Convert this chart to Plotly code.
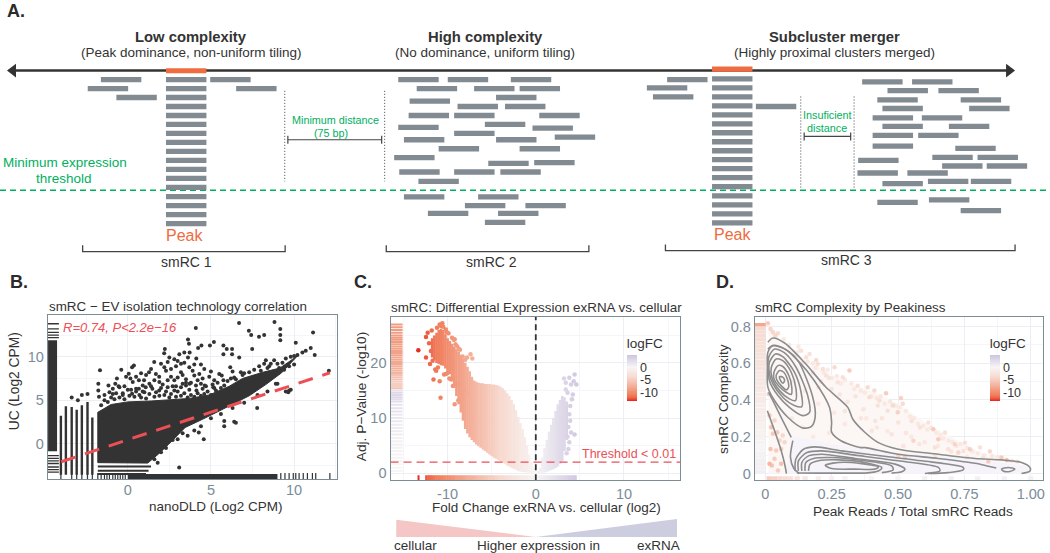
import plotly.graph_objects as go

FONT = "Liberation Sans"
DARK = "#333333"
SLATE = "#7B8C99"
GREEN = "#00B060"
ORANGE = "#EE6C3F"
READ = "#828A92"
RED = "#EC4F55"
GRID = "#EDEEF4"
GRID2 = "#F5F6FA"
BORDER = "#7C8E93"

# panel A, read pile-ups on the page (start, row)
read_len = 40.5
c1_x = [101.1, 210.6, 87.9, 236.6, 116.6]
c1_y = [79.7, 79.7, 88.7, 88.7, 97.7]
stack1_y = [79.7, 88.7, 97.7, 106.7, 115.7, 124.7, 133.7, 142.7, 151.7, 160.7, 169.7, 178.7, 187.7, 197, 206, 215, 224]
c2_x = [399, 448.6, 511.8, 417.5, 475, 520.6, 497, 410.4, 458.4, 506, 409.4, 455, 540.3, 399, 485.8, 455, 533.5,
        404.7, 497, 555.8, 439.5, 520.6, 394.9, 489.2, 535.2, 400, 455, 501.3, 419.2,
        404.7, 479, 465.8, 526.4, 428.7, 499, 485.8]
c2_y = [79.7, 79.7, 79.7, 88.7, 88.7, 88.7, 97.7, 101.3, 106.7, 106.7, 115.7, 115.7, 115.7, 127.7, 124.7, 133.7, 128.3,
        140, 140, 137.3, 149, 149, 158, 163.7, 163, 172.3, 172.3, 172.3, 181.7,
        197.3, 197.3, 206, 206, 213.7, 213.7, 222.7]
stack3_y = [79, 88, 97, 106, 115, 124, 133, 142, 151, 160, 169, 178, 187, 196.3, 205.3, 214.3, 223.3]
c3_x = [668.4, 648.1, 654.2, 757.3,
        863.8, 913.8, 889.2, 940.2, 879, 962.5, 884.1, 971, 874.3, 923.6, 884.1, 950.7, 874.3, 919.9, 874.3, 957.1,
        934.1, 979.4, 859.8, 943.9, 988.6, 859.1, 909.1, 884.1, 929.7, 972.7, 879, 930.7, 962.5]
c3_y = [79.7, 88, 97, 106.7,
        82, 82, 90.7, 90.7, 100, 100, 108.7, 108.7, 118, 118, 126.7, 126.7, 135.7, 135.7, 146.3, 148.7,
        157.7, 157.7, 160.7, 166.3, 166.3, 173.3, 173.3, 184, 181.7, 181.7, 202.7, 200.3, 211]

# panel B
reg_x = [-4.0, 12.15]
reg_y = [-2.1, 8.15]
cloud_b_x = [-1.8, -1.8, -1.0, 0, 1.4, 2.4, 3.7, 4.9, 6.1, 6.9, 8.1, 9.15, 10.2, 9.25, 8.3, 7.3, 6.5, 5.5, 4.5, 3.45, 2.45, 1.85, 1.2, -1.8]
cloud_b_y = [-2.2, 3.6, 4.5, 4.8, 4.9, 5.0, 5.2, 5.6, 6.6, 7.5, 8.2, 8.7, 10.1, 8.15, 6.8, 5.5, 4.7, 3.75, 2.8, 1.85, -0.1, -1.2, -2.25, -2.2]
col_x = [-4.02, -3.72, -3.37, -3.07, -2.76, -2.42, -2.13]
col_lo = [-3.6, -3.6, -3.6, -3.6, -3.6, -3.6, -3.6]
col_hi = [3.2, 4.3, 4.2, 3.9, 4.4, 4.8, 3.0]
row_b_y = [-2.64, -3.14, -3.5]
row_b_end = [1.4, 1.25, 1.1]
out_b_x = [4.09, 6.69, 8.82, 7.28, 7.42, 7.89, 8.2, 9.17, 9.17, 9.17, 11.14, 7.48, 10.1, 11.0, 11.24, 10.7, 12.09,
           3.62, 3.68, 5.18, 4.94, 4.43, 4.23, 5.75, 5.95, 6.27, 5.75, 6.27, 6.7, 2.23, 2.19, 2.5, 3.1, 3.4, 3.72, 3.62,
           2.8, 3.0, 4.12, 3.2, 2.4,
           -1.67, -1.77, -1.77, -1.73, -0.39, -0.65, -0.75, -0.55, -1.16, -1.1, 0.37, 0.26, 0.06, -0.1, 0.16, 0.5, 0.67,
           0.98, 1.28, 1.59, 1.69, 1.89, 2.2, 2.3, 2.6, 2.8, 3.2, 3.3, 3.9, 4.0, 4.3, 4.2, 4.9, 5.65, 5.75, 6.16,
           1.08, 1.48, 0.67, 0.26, 1.89, 2.4, 2.8, 3.2, 3.72, 4.13, 4.63, 5.14, -0.9, -0.3, 0.9, 2.1, 3.5, 4.4,
           7.78, 9.7, 9.5, 9.0, 5.8, 5.8, 6.4, 6.5, 4.57, 4.27, 3.09, 9.65, 9.8,
           9.5, 9.8, 10.0, 10.2, 10.5, 9.3, 9.0, 8.8, 8.6, 8.5, 9.1, 9.7, 10.0, 9.4, 8.4, 8.0,
           6.9, 6.4, 5.2, 4.7, 3.5, 2.9, 1.3, 0.5, 0.0, -0.5, -3.37, -2.76, -3.0, -2.42]
out_b_y = [13.3, 13.9, 14.0, 13.0, 12.5, 12.3, 12.5, 13.2, 12.5, 11.9, 12.8, 10.9, 11.6, 11.0, 10.2, 10.7, 8.4,
           12.0, 11.5, 11.7, 11.3, 11.3, 11.0, 11.3, 10.9, 10.9, 10.3, 10.3, 9.9, 10.9, 10.4, 9.9, 10.3, 10.5, 10.5, 9.9,
           9.7, 9.5, 9.8, 9.2, 9.4,
           8.43, 6.9, 6.1, 5.4, 8.5, 7.5, 6.9, 6.6, 6.7, 5.9, 9.0, 8.8, 8.05, 7.7, 7.5, 7.7, 7.3,
           7.3, 8.2, 9.4, 8.0, 7.7, 8.8, 8.4, 7.7, 7.3, 8.2, 7.9, 8.4, 7.85, 8.0, 7.3, 7.7, 7.85, 7.3, 8.8,
           6.5, 6.3, 6.3, 5.75, 6.1, 6.5, 6.1, 6.5, 6.9, 6.1, 6.7, 6.5, 5.7, 5.8, 6.0, 6.8, 7.0, 6.9,
           4.1, 6.1, 6.0, 6.9, 2.6, 2.0, 2.5, 2.4, 0.5, 1.26, -2.76, 5.9, 6.2,
           9.8, 10.0, 10.1, 10.2, 10.5, 9.3, 9.2, 9.6, 9.2, 8.9, 8.7, 8.9, 9.1, 8.5, 8.7, 8.4,
           7.9, 7.6, 6.4, 6.6, 6.7, 6.6, 6.9, 6.3, 6.2, 6.5, 5.3, 5.6, 5.0, 5.7]
edge_b_x = [-1.6, -1.4, -1.2, -1.0, -0.8, -0.7, -0.5, -0.3, -0.2, 0.1, 0.2, 0.4, 0.5, 0.7, 0.8, 1.0, 1.1, 1.3, 1.4, 1.6, 1.7, 1.9,
            2.0, 2.2, 2.3, 2.5, 2.6, 2.7, 2.9, 3.0, 3.2, 3.3, 3.4, 3.6, 3.7, 3.8, 4.0, 4.1, 4.2, 4.4, 4.5, 4.6, 4.8, 5.0, 5.1,
            5.3, 5.4, 5.6, 5.8, 6.0, 6.2, 6.5, 7.0, 7.3, 7.6, 7.9, 8.2, 8.3, 6.8, 6.3, 5.5, 5.0, 4.6, 4.4, 4.0, 3.7, 3.4, 2.9,
            2.6, 2.0, 1.4, 1.1, 0.8, 0.3, -0.2, -0.9, -1.4, 1.9, 2.4, 3.0, 3.5, 3.8, 4.5, 5.2, 0.9, 1.6,
            4.0, 3.3, 2.7, 2.3, 2.0, 5.0, 5.6, 6.3, 7.0, 7.8, 8.4, 8.9, 3.0, 3.6, 4.4, 1.6, 1.8]
edge_b_y = [4.4, 5.0, 4.8, 5.3, 5.1, 5.8, 5.3, 5.6, 5.1, 5.5, 6.2, 5.4, 6.0, 5.6, 5.3, 5.9, 5.2, 5.7, 6.6, 5.4, 5.9, 5.5,
            6.4, 5.6, 6.0, 5.3, 5.7, 6.6, 5.4, 6.0, 5.5, 6.9, 5.8, 5.3, 6.2, 5.6, 5.4, 6.7, 5.8, 5.5, 6.3, 5.7, 6.0, 5.6, 6.8,
            6.1, 7.0, 6.4, 6.7, 7.2, 7.5, 7.4, 8.1, 8.2, 8.5, 8.9, 9.2, 9.6, 8.2, 8.3, 8.0, 8.3, 8.6, 9.1, 9.1, 8.8, 9.3, 8.9,
            8.6, 9.2, 8.6, 7.9, 8.1, 7.1, 6.6, 6.3, 5.6, 7.1, 7.3, 7.6, 7.4, 7.0, 7.5, 7.3, 6.7, 7.3,
            1.5, 1.2, 0.4, -0.5, -1.0, 2.9, 3.4, 4.1, 4.7, 5.6, 6.0, 6.9, 0.5, 0.9, 2.0, -1.8, -2.2]
rug_b_solid = [-0.9, 11.9]
rug_b_y = [12.2, 12.5, 12.8, 13.2, 13.8, -1.4, -1.7, -2.0, -2.3, -2.7, -3.0, -3.3]
rug_b_x_solid = [0.0, 9.0]
rug_b_x = [-4.02, -3.37, -3.07, -2.76, -2.42, -2.13, -1.8, -1.6, -1.4, -1.25, -1.1, -0.9, -0.75, -0.6, -0.45, -0.3, -0.15,
           9.2, 9.45, 9.7, 9.95, 10.1, 10.3, 10.55, 10.8, 11.1, 11.3, 12.15]

# panel C, volcano cloud by fold change bin
fc_bins = [-11.75, -11.5, -11.25, -11, -10.75, -10.5, -10.25, -10, -9.75, -9.5, -9.25, -9, -8.75, -8.5, -8.25, -8, -7.75, -7.5,
           -7.25, -7, -6.75, -6.5, -6.25, -6, -5.75, -5.5, -5.25, -5, -4.75, -4.5, -4.25, -4, -3.75, -3.5, -3.25, -3, -2.75,
           -2.5, -2.25, -2, -1.75, -1.5, -1.25, -1, -0.75, -0.5, -0.25, 0, 0.25, 0.5, 0.75, 1, 1.25, 1.5, 1.75, 2, 2.25, 2.5,
           2.75, 3, 3.25, 3.5]
p_low = [21, 20.5, 20, 19.8, 19.6, 19.5, 19, 18.5, 18, 17, 15.5, 14, 12.5, 11, 9.5, 8, 7.2, 6.5,
         6, 5.6, 5.2, 4.9, 4.6, 4.3, 4, 3.7, 3.4, 3.1, 2.8, 2.6, 2.4, 2.2, 1.9, 1.7, 1.4, 1.2, 1,
         0.8, 0.6, 0.4, 0.3, 0.2, 0.15, 0.1, 0.05, 0, 0, 0, 0, 0, 0.05, 0.1, 0.25, 0.4, 0.55, 0.7, 0.95, 1.2,
         1.7, 2.2, 4, 6]
p_high = [24.5, 25, 25.5, 26, 26.2, 26, 25.2, 24.5, 24, 23.5, 23, 22.5, 22, 21.5, 20.8, 20, 19.3, 18.5,
          17.5, 16.8, 16.6, 16.4, 16.3, 16.3, 16.2, 16.2, 16.2, 16.1, 16.1, 16, 15.9, 15.7, 15.4, 15, 14.5, 14, 13.3,
          12.5, 11.4, 10.2, 9.1, 8, 6.5, 5, 3.4, 2, 1, 0.3, 0.4, 1, 2.8, 4.5, 6, 7.5, 8.8, 10, 11.3, 12.5,
          13.3, 14, 13.8, 13]
out_c_fc = [-13.32, -12.45, -11.8, -12.26, -12.45, -11.6, -10.8, -10.9, -9.2, -10.6, -10.75, -10.2, -9.2, -8.7, -7.4, -7.2,
            -11.4, -10.2, -9.8, -9.0, -8.2, -7.7, -8.8, -12.0, -12.1, -11.9, -11.7, -11.3, -11.1, -10.4, -10.0, -9.6, -9.4, -8.5,
            -8.3, -8.0, -7.8, -11.2, -10.9, -10.5, -10.1, -9.9, -9.5, -9.3, -9.1, -8.9, -8.6,
            4.4, 3.8, 3.2, 4.3, 4.6, 3.4, 4.0, 4.2, 3.8, 4.4, 3.8, 4.0, 3.9, 3.6, 3.9, 3.5, 4.1, 3.7, 3.6, 3.7, 3.4]
out_c_p = [22.3, 24.7, 25.9, 25.5, 21, 17, 13.7, 16.7, 12.5, 27.2, 26.7, 26.1, 24.3, 22.5, 21.6, 20.8,
           18.8, 18.0, 17.2, 16.2, 15.2, 14.4, 13.2, 19.8, 23.6, 22.2, 20.4, 18.6, 19.2, 17.9, 18.2, 17.0, 15.8, 14.2,
           21.2, 20.6, 21.0, 26.4, 27.0, 26.6, 25.6, 25.4, 24.6, 24.2, 23.4, 23.0, 22.4,
           17.9, 17.3, 17.2, 16.7, 16.1, 16.4, 16.1, 14.3, 10.7, 7, 5.6, 7.4, 9.5, 14.6, 12.2, 3.6, 13.4, 8.4, 6.6, 4.4, 15.2]
rug_c_p = [27, 26.5, 26, 25.5, 25, 24.6, 24.2, 23.8, 23.4, 23, 22.6, 22.2, 21.8, 21.4, 21, 20.6, 20.2, 19.8, 19.4, 19, 18.6,
           18.2, 17.8, 17.4, 17, 16.6, 16.2, 15.8, 15.4, 15, 14.6, 14.2, 13.8, 13.4, 13, 12.4, 11.8, 11.2, 10.6, 10, 9.4, 8.8,
           8.2, 7.6, 7, 6.4, 5.8, 5.2, 4.6, 4, 3.4, 2.8, 2.2, 1.6, 1, 0.4]
rug_c_fc = [-9, -9, -9, -9, -9, -9, -9, -9, -8.5, -8.5, -8.5, -8.5, -8.5, -8.5, -8, -8, -8, -8, -7.5, -7.5, -7,
            -7, -6, -6, -6, -5, -5, -5, -6, 2, 3, 3, 3, 2.5, 2.5, 2, 2, 2, 1.5, 1.5, 1.5, 1,
            1, 1, 1, 0.5, 0.5, 0.5, 0.5, 0.3, 0.3, 0.2, 0.2, 0, 0, 0]
rug_c_x = [-13.3, -12.4, -12.15, -11.95, 3.75, 4.0, 4.25, 4.5]
rug_c_w = [0.2, 0.3, 0.3, 0.3, 0.3, 0.3, 0.3, 0.3]

# panel D
cloud_d_x = [0.012, 0.03, 0.06, 0.1, 0.15, 0.2, 0.3, 0.4, 0.5, 0.6, 0.7, 0.8, 0.9, 1.0, 1.0, 0.012]
cloud_d_y = [0.8, 0.79, 0.72, 0.68, 0.62, 0.58, 0.5, 0.45, 0.38, 0.28, 0.2, 0.12, 0.08, 0.03, 0.0, 0.0]
band_d_x = [0.1, 0.15, 0.25, 0.45, 0.7, 1.0, 1.0, 0.08]
band_d_y = [0.2, 0.19, 0.16, 0.12, 0.09, 0.04, 0.0, 0.0]
pts_d_x = [0.01, 0.02, 0.029, 0.048, 0.038, 0.135, 0.167, 0.154, 0.192, 0.198, 0.217, 0.229, 0.261, 0.317, 0.292, 0.273,
           0.348, 0.386, 0.411, 0.455, 0.392, 0.43, 0.511, 0.48, 0.499, 0.518, 0.461, 0.424,
           0.013, 0.023, 0.029, 0.02, 0.016, 0.025, 0.048, 0.035, 0.041, 0.06, 0.054, 0.06, 0.016, 0.035, 0.045, 0.066, 0.073,
           0.633, 0.652, 0.677, 0.614, 0.551, 0.714, 0.752, 0.771, 0.809, 0.846, 0.89, 0.909, 0.84, 0.746, 0.689, 0.727, 0.639,
           0.583, 0.558, 0.501, 0.526, 0.52, 0.476, 0.401, 0.501, 0.414,
           0.11, 0.14, 0.18, 0.21, 0.25, 0.28, 0.31, 0.34, 0.37, 0.2, 0.24, 0.3, 0.36, 0.44, 0.53, 0.58, 0.64, 0.7, 0.76, 0.82]
pts_d_y = [0.817, 0.786, 0.768, 0.763, 0.75, 0.668, 0.65, 0.632, 0.618, 0.596, 0.569, 0.533, 0.578, 0.56, 0.524, 0.496,
           0.478, 0.469, 0.451, 0.437, 0.415, 0.397, 0.411, 0.37, 0.333, 0.379, 0.342, 0.37,
           0.433, 0.252, 0.216, 0.134, 0.053, 0.043, 0.016, 0.08, 0.125, 0.134, 0.179, 0.053, 0.315, 0.288, 0.225, 0.207, 0.17,
           0.241, 0.187, 0.223, 0.277, 0.286, 0.159, 0.168, 0.132, 0.141, 0.12, 0.087, 0.074, 0.065, 0.123, 0.132, 0.114, 0.141,
           0.25, 0.178, 0.096, 0.087, 0.15, 0.214, 0.232, 0.277, 0.286,
           0.64, 0.6, 0.55, 0.5, 0.46, 0.43, 0.39, 0.42, 0.35, 0.47, 0.52, 0.34, 0.3, 0.3, 0.22, 0.16, 0.1, 0.12, 0.09, 0.085]
pts_d_fc = [-6, -5, -5, -4.5, -5, -4, -4, -4, -4.5, -4, -4, -3.5, -4.5, -6, -4, -3.5,
            -4, -4.5, -4.5, -6, -4, -4, -5.5, -4.5, -5.5, -4.5, -3.5, -3.5,
            -6, -7, -6, -7, -8, -7, -6, -6, -6, -6, -5, -7, -6, -5, -6, -5, -5,
            -6, -6, -4, -3.5, -3.5, -5, -4, -5.5, -4, -5, -6, -7, -6, -3.5, -3.5, -5, -3.5,
            -3.5, -5, -5, -5.5, -3, -3, -3, -3, -3,
            -3, -3, -3, -3, -3, -3, -3, -3, -3, -3, -3, -3, -3, -3, -3, -3, -3, -3, -3, -3]
pale_d_x = [0.07, 0.09, 0.12, 0.125, 0.16, 0.18, 0.19, 0.22, 0.235, 0.25, 0.27, 0.285, 0.3, 0.325, 0.335, 0.36, 0.375, 0.4, 0.42, 0.435,
            0.45, 0.47, 0.49, 0.505, 0.53, 0.545, 0.56, 0.575, 0.595, 0.61, 0.625, 0.645, 0.66, 0.67, 0.69, 0.705, 0.72, 0.735, 0.76,
            0.78, 0.8, 0.825, 0.855, 0.875, 0.93, 0.95,
            0.08, 0.1, 0.15, 0.2, 0.26, 0.3, 0.38, 0.42, 0.46, 0.55, 0.6, 0.65, 0.1, 0.14, 0.18, 0.24]
pale_d_y = [0.73, 0.70, 0.66, 0.69, 0.61, 0.6, 0.575, 0.55, 0.565, 0.52, 0.53, 0.49, 0.51, 0.49, 0.46, 0.45, 0.44, 0.42, 0.41, 0.42,
            0.38, 0.39, 0.37, 0.36, 0.34, 0.31, 0.3, 0.27, 0.26, 0.24, 0.25, 0.22, 0.21, 0.19, 0.18, 0.17, 0.15, 0.16, 0.14,
            0.12, 0.11, 0.1, 0.095, 0.09, 0.07, 0.065,
            0.6, 0.5, 0.45, 0.38, 0.33, 0.27, 0.3, 0.25, 0.23, 0.2, 0.17, 0.15, 0.3, 0.25, 0.2, 0.22]
rug_d_y = [0.81, 0.79, 0.77, 0.75, 0.73, 0.71, 0.69, 0.67, 0.65, 0.63, 0.61, 0.59, 0.57, 0.55, 0.53, 0.51, 0.49, 0.47, 0.45, 0.43,
           0.41, 0.39, 0.37, 0.35, 0.33, 0.31, 0.29, 0.27, 0.25, 0.23, 0.21, 0.19, 0.17, 0.15, 0.13, 0.11, 0.09, 0.07, 0.05, 0.03, 0.01]
rug_d_fc = [-8, -4, -3.5, -3.5, -3.5, -3, -3, -3, -3, -2.5, -2.5, -2.5, -2.5, -2, -2, -2, -2, -2, -1.5, -1.5,
            -1.5, -1.5, -1, -1, -1, -1, -1, -0.7, -0.7, -0.5, -0.5, -0.3, -0.3, 0, 0, 0.3, 0.3, 0.5, 0.5, 0.5, 0.5]
rug_d_x = [0.015, 0.035, 0.055, 0.075, 0.095, 0.12, 0.15, 0.2, 0.25, 0.3, 0.4, 0.5, 0.6, 0.7, 0.8, 0.9, 1.0]
rug_d_xfc = [-5, -4.5, -4, -3.5, -3, -2.5, -2, -1, -0.7, -0.5, -0.2, 0.2, 0.4, 0.5, 0.5, 0.5, 0.5]

# contours of panel D
contours_d = [
    ([0.054, 0.066, 0.073, 0.066, 0.058, 0.054], [0.527, 0.524, 0.505, 0.491, 0.505, 0.527]),
    ([0.041, 0.054, 0.07, 0.083, 0.088, 0.079, 0.06, 0.045, 0.041], [0.533, 0.56, 0.551, 0.515, 0.469, 0.455, 0.478, 0.505, 0.533]),
    ([0.033, 0.048, 0.066, 0.089, 0.1, 0.098, 0.079, 0.05, 0.033, 0.033], [0.551, 0.587, 0.582, 0.533, 0.469, 0.43, 0.442, 0.478, 0.515, 0.551]),
    ([0.023, 0.041, 0.066, 0.098, 0.116, 0.114, 0.091, 0.054, 0.025, 0.023], [0.578, 0.623, 0.614, 0.551, 0.46, 0.397, 0.406, 0.451, 0.524, 0.578]),
    ([0.016, 0.038, 0.066, 0.11, 0.135, 0.138, 0.11, 0.066, 0.029, 0.016, 0.016], [0.605, 0.65, 0.636, 0.551, 0.442, 0.364, 0.37, 0.415, 0.487, 0.542, 0.605]),
    ([0.013, 0.035, 0.073, 0.116, 0.16, 0.167, 0.141, 0.091, 0.048, 0.016, 0.013], [0.632, 0.677, 0.656, 0.578, 0.424, 0.333, 0.315, 0.36, 0.424, 0.505, 0.632]),
    ([0.01, 0.029, 0.073, 0.123, 0.179, 0.188, 0.173, 0.141, 0.085, 0.035, 0.01, 0.008, 0.01], [0.659, 0.696, 0.678, 0.614, 0.415, 0.306, 0.255, 0.248, 0.306, 0.397, 0.47, 0.578, 0.659]),
    ([0.01, 0.029, 0.073, 0.123, 0.185, 0.242, 0.25, 0.25, 0.285, 0.36, 0.376, 0.501, 0.652, 0.79, 0.84, 0.87],
     [0.677, 0.696, 0.678, 0.614, 0.505, 0.36, 0.28, 0.225, 0.178, 0.141, 0.141, 0.105, 0.082, 0.056, 0.04, 0.03]),
    ([0.01, 0.029, 0.073, 0.147, 0.229, 0.311, 0.33, 0.376, 0.426, 0.501, 0.652, 0.79, 0.89, 0.965, 0.997, 0.997, 0.965],
     [0.714, 0.737, 0.71, 0.605, 0.469, 0.36, 0.295, 0.223, 0.168, 0.132, 0.105, 0.082, 0.074, 0.06, 0.033, 0.014, 0.0]),
    ([0.008, 0.035, 0.06, 0.073, 0.08], [0.342, 0.234, 0.125, 0.053, 0.0]),
    ([0.013, 0.035, 0.066, 0.098], [0.442, 0.379, 0.288, 0.197]),
    ([0.104, 0.095, 0.108, 0.128], [0.179, 0.089, 0.027, 0.0]),
    ([0.113, 0.115, 0.144, 0.188, 0.288, 0.464, 0.589, 0.746, 0.746, 0.689, 0.614],
     [0.014, 0.078, 0.132, 0.145, 0.123, 0.091, 0.069, 0.033, 0.02, 0.005, 0.0]),
    ([0.125, 0.125, 0.157, 0.213, 0.338, 0.501, 0.652, 0.658, 0.601],
     [0.014, 0.069, 0.114, 0.123, 0.1, 0.069, 0.033, 0.014, 0.0]),
    ([0.138, 0.138, 0.163, 0.213, 0.338, 0.489, 0.526, 0.514, 0.476],
     [0.014, 0.06, 0.096, 0.105, 0.082, 0.051, 0.024, 0.009, 0.002]),
    ([0.15, 0.153, 0.182, 0.25, 0.376, 0.476, 0.482, 0.439],
     [0.014, 0.06, 0.082, 0.087, 0.069, 0.042, 0.02, 0.005]),
    ([0.163, 0.169, 0.2, 0.276, 0.388, 0.439, 0.426, 0.376],
     [0.014, 0.051, 0.069, 0.074, 0.056, 0.033, 0.014, 0.002]),
    ([0.226, 0.276, 0.363, 0.426, 0.414, 0.338, 0.25, 0.226],
     [0.045, 0.06, 0.054, 0.036, 0.024, 0.024, 0.027, 0.045]),
    ([0.89, 0.915, 0.94, 0.921, 0.896, 0.89], [0.024, 0.033, 0.024, 0.011, 0.014, 0.024]),
    ([0.12, 0.2, 0.3, 0.376], [0.003, 0.002, 0.002, 0.002]),
]

colorscale = [[0, "#E8201F"], [0.03, "#EA4030"], [0.08, "#EE6A4C"], [0.135, "#F0805F"], [0.351, "#F4B5A0"],
              [0.514, "#F7D9CF"], [0.73, "#F7F5F5"], [1, "#CEC5E0"]]

fig = go.Figure()


def lines(x, y, color, width, dash="solid", spline=False, axis="", fill=None, fillcolor=None):
    fig.add_trace(go.Scatter(x=x, y=y, mode="lines", xaxis="x" + axis, yaxis="y" + axis, fill=fill, fillcolor=fillcolor,
                             line=dict(color=color, width=width, dash=dash, shape="spline" if spline else "linear", smoothing=0.8),
                             hoverinfo="skip", showlegend=False))


def reads(xs, ys, color=READ):
    px, py = [], []
    for x0, y0 in zip(xs, ys):
        px += [x0, x0 + read_len, None]
        py += [y0, y0, None]
    lines(px, py, color, 5.3)


def text(x, y, s, size=13, color=DARK, bold=False, italic=False, angle=0):
    if bold:
        s = "<b>" + s + "</b>"
    if italic:
        s = "<i>" + s + "</i>"
    fig.add_annotation(x=x, y=y, xref="x", yref="y", text=s, showarrow=False, textangle=angle,
                       font=dict(size=size, color=color, family=FONT))


# ---- panel A (page axis in pixels)
lines([10, 1012], [70.7, 70.7], DARK, 2.6)
fig.add_trace(go.Scatter(x=[13, 1011], y=[70.7, 70.7], mode="markers", xaxis="x", yaxis="y", hoverinfo="skip", showlegend=False,
                         marker=dict(symbol=["triangle-left", "triangle-right"], size=12, color=DARK, line=dict(width=0))))
lines([0, 1050], [190.7, 190.7], GREEN, 1.5, dash="6px,4px")
reads(c1_x, c1_y)
reads([166.3] * len(stack1_y), stack1_y)
reads(c2_x, c2_y)
reads([713.4] * len(stack3_y), stack3_y)
reads(c3_x, c3_y)
lines([166.3, 206.8], [70.9, 70.9], ORANGE, 5.2)
lines([713.4, 753.9], [69.3, 69.3], ORANGE, 5.2)
for x0, y0, y1 in [(285.3, 91, 181.7), (385.4, 91, 181.7), (802.3, 96.7, 188), (855.7, 96.7, 188)]:
    lines([x0, x0], [y0, y1], "#444444", 1, dash="1px,2px")
for x0, x1, y0 in [(288.4, 382.4, 140), (805.7, 852.3, 136.7)]:
    lines([x0, x0, None, x0, x1, None, x1, x1], [y0 - 4, y0 + 4, None, y0, y0, None, y0 - 4, y0 + 4], "#444444", 1.2)
for x0, x1, y0, y1 in [(82.8, 285.7, 245.7, 252), (387, 590, 245.7, 252), (666.7, 1017, 245, 251)]:
    lines([x0, x0, x1, x1], [y0, y1, y1, y0], "#444444", 1.3)

text(16.5, 11, "A.", 18, "#2B2B2B", bold=True)
text(191.7, 36.7, "Low complexity", 14.8, bold=True)
text(192, 53, "(Peak dominance, non-uniform tiling)", 13.5)
text(486, 36.7, "High complexity", 14.8, bold=True)
text(486, 53, "(No dominance, uniform tiling)", 13.5)
text(835.8, 36.7, "Subcluster merger", 14.8, bold=True)
text(835.8, 53, "(Highly proximal clusters merged)", 13.5)
text(65, 163, "Minimum expression", 13.5, GREEN)
text(64.6, 179, "threshold", 13.5, GREEN)
text(336, 120, "Minimum distance", 10.8, GREEN)
text(331.3, 133, "(75 bp)", 10.8, GREEN)
text(829, 115, "Insuficient", 10.8, GREEN)
text(829, 128, "distance", 10.8, GREEN)
text(185, 236, "Peak", 16, ORANGE)
text(733.7, 235, "Peak", 16, ORANGE)
text(187, 262.3, "smRC 1", 14)
text(492, 262.3, "smRC 2", 14)
text(848.6, 260, "smRC 3", 14)
text(19.5, 282.7, "B.", 18, "#2B2B2B", bold=True)
text(364, 282.7, "C.", 18, "#2B2B2B", bold=True)
text(726, 282.7, "D.", 18, "#2B2B2B", bold=True)

# gradient wedges under panel C
lines([397, 397, 536.7, 397], [520.7, 538, 538, 520.7], "rgba(0,0,0,0)", 0, fill="toself", fillcolor="#F4C6C6")
lines([536.7, 678.3, 678.3, 536.7], [538, 520, 538, 538], "rgba(0,0,0,0)", 0, fill="toself", fillcolor="#CDCDE0")
text(416.7, 546, "cellular", 13.5)
text(540, 546, "Higher expression in", 13.5)
text(660, 546, "exRNA", 13.5)

# ---- panel B
lines(cloud_b_x, cloud_b_y, DARK, 1, axis="2", fill="toself", fillcolor=DARK)
col_px, col_py = [], []
for x0, lo, hi in zip(col_x, col_lo, col_hi):
    col_px += [x0, x0, None]
    col_py += [lo, hi, None]
lines(col_px, col_py, DARK, 2.4, axis="2")
row_px, row_py = [], []
for y0, x1 in zip(row_b_y, row_b_end):
    row_px += [-1.8, x1, None]
    row_py += [y0, y0, None]
lines(row_px, row_py, DARK, 2, axis="2")
fig.add_trace(go.Scatter(x=out_b_x + edge_b_x, y=out_b_y + edge_b_y, mode="markers", xaxis="x2", yaxis="y2", hoverinfo="skip", showlegend=False,
                         marker=dict(size=4, color=DARK, line=dict(width=0))))
lines([-4.52, -4.52], rug_b_solid, DARK, 9, axis="2")
fig.add_trace(go.Scatter(x=[-4.52] * len(rug_b_y), y=rug_b_y, mode="markers", xaxis="x2", yaxis="y2", hoverinfo="skip", showlegend=False,
                         marker=dict(symbol="line-ew", size=9, line=dict(color=DARK, width=1.3))))
lines(rug_b_x_solid, [-3.8, -3.8], DARK, 5, axis="2")
fig.add_trace(go.Scatter(x=rug_b_x, y=[-3.8] * len(rug_b_x), mode="markers", xaxis="x2", yaxis="y2", hoverinfo="skip", showlegend=False,
                         marker=dict(symbol="line-ns", size=5, line=dict(color=DARK, width=1.2))))
lines(reg_x, reg_y, RED, 3, dash="15px,10px", axis="2")
text(120, 328, "R=0.74, P<2.2e−16", 13, RED, italic=True)
text(178, 306.7, "smRC − EV isolation technology correlation", 13.4)
text(216.7, 507, "nanoDLD (Log2 CPM)", 13.5)
text(14, 382, "UC (Log2 CPM)", 13.8, angle=-90)

# ---- panel C
fig.add_trace(go.Bar(x=fc_bins, y=[h - l for h, l in zip(p_high, p_low)], base=p_low, width=0.3, xaxis="x3", yaxis="y3",
                     hoverinfo="skip", showlegend=False, marker=dict(color=fc_bins, coloraxis="coloraxis", line=dict(width=0))))
fig.add_trace(go.Scatter(x=out_c_fc, y=out_c_p, mode="markers", xaxis="x3", yaxis="y3", hoverinfo="skip", showlegend=False,
                         marker=dict(size=4.5, color=out_c_fc, coloraxis="coloraxis", line=dict(width=0))))
fig.add_trace(go.Bar(x=rug_c_x + fc_bins, y=[0.9] * (len(fc_bins) + len(rug_c_x)), base=-1.27, width=rug_c_w + [0.3] * len(fc_bins),
                     xaxis="x3", yaxis="y3", hoverinfo="skip", showlegend=False,
                     marker=dict(color=rug_c_x + fc_bins, coloraxis="coloraxis", line=dict(width=0))))
fig.add_trace(go.Scatter(x=[-15.9] * len(rug_c_p), y=rug_c_p, mode="markers", xaxis="x3", yaxis="y3", hoverinfo="skip", showlegend=False,
                         marker=dict(symbol="line-ew", size=10, color=rug_c_fc, coloraxis="coloraxis",
                                     line=dict(color=rug_c_fc, coloraxis="coloraxis", width=2))))
lines([-16.47, 16.4], [2, 2], RED, 1.4, dash="8px,5px", axis="3")
lines([0, 0], [-1.27, 28.4], DARK, 1.8, dash="6px,4px", axis="3")
text(630, 455, "Threshold < 0.01", 12.5, RED)
text(538, 308, "smRC: Differential Expression exRNA vs. cellular", 13.4)
text(547.5, 508.7, "Fold Change exRNA vs. cellular (log2)", 13.5)
text(363, 397.6, "Adj. P−Value (-log10)", 13.7, angle=-90)

# ---- panel D
lines(cloud_d_x, cloud_d_y, "rgba(0,0,0,0)", 0, axis="4", fill="toself", fillcolor="#FCF7F5")
lines(band_d_x, band_d_y, "rgba(0,0,0,0)", 0, axis="4", fill="toself", fillcolor="#F6F4FA")
fig.add_trace(go.Scatter(x=pale_d_x, y=pale_d_y, mode="markers", xaxis="x4", yaxis="y4", hoverinfo="skip", showlegend=False,
                         marker=dict(size=4.5, color="#F9E4DD", opacity=0.8, line=dict(width=0))))
fig.add_trace(go.Scatter(x=pts_d_x, y=pts_d_y, mode="markers", xaxis="x4", yaxis="y4", hoverinfo="skip", showlegend=False,
                         marker=dict(size=4.5, color=pts_d_fc, coloraxis="coloraxis2", opacity=0.8, line=dict(width=0))))
fig.add_trace(go.Bar(x=rug_d_x, y=[0.021] * len(rug_d_x), base=-0.036, width=0.02, xaxis="x4", yaxis="y4",
                     hoverinfo="skip", showlegend=False, marker=dict(color=rug_d_xfc, coloraxis="coloraxis2", line=dict(width=0))))
fig.add_trace(go.Scatter(x=[-0.022] * len(rug_d_y), y=rug_d_y, mode="markers", xaxis="x4", yaxis="y4", hoverinfo="skip", showlegend=False,
                         marker=dict(symbol="line-ew", size=9, color=rug_d_fc, coloraxis="coloraxis2",
                                     line=dict(color=rug_d_fc, coloraxis="coloraxis2", width=3.5))))
for cx, cy in contours_d:
    lines(cx, cy, "#8C8C8C", 1.6, spline=True, axis="4")
text(852, 308, "smRC Complexity by Peakiness", 13.4)
text(915, 512.3, "Peak Reads / Total smRC Reads", 13.7)
text(725, 400, "smRC Complexity", 13.7, angle=-90)


def panel_axis(x0, x1, y0, y1, xr, yr, xticks, xlabels, yticks, ylabels, xminor, yminor, n, xstandoff=0):
    x_ax = dict(domain=[x0 / 1050, x1 / 1050], range=xr, anchor="y" + n, tickvals=xticks, ticktext=xlabels, ticks="",
                tickfont=dict(size=14.5, color=SLATE), showline=True, mirror=True, linecolor=BORDER, linewidth=1.3,
                ticklabelstandoff=xstandoff,
                gridcolor=GRID, gridwidth=1.2, zeroline=False, minor=dict(tickvals=xminor, showgrid=True, gridcolor=GRID2, gridwidth=1))
    y_ax = dict(domain=[1 - y1 / 553, 1 - y0 / 553], range=yr, anchor="x" + n, tickvals=yticks, ticktext=ylabels, ticks="",
                tickfont=dict(size=14.5, color=SLATE), showline=True, mirror=True, linecolor=BORDER, linewidth=1.3,
                gridcolor=GRID, gridwidth=1.2, zeroline=False, minor=dict(tickvals=yminor, showgrid=True, gridcolor=GRID2, gridwidth=1))
    return x_ax, y_ax


xb, yb = panel_axis(48, 338, 316, 480, [-4.8, 12.6], [-4.1, 14.76], [0, 5, 10], ["0", "5", "10"], [0, 5, 10], ["0", "5", "10"],
                    [-2.5, 2.5, 7.5, 12.5], [-2.5, 2.5, 7.5, 12.5], "2", xstandoff=-3)
xc, yc = panel_axis(391.3, 681.7, 317.3, 481, [-16.47, 16.4], [-1.27, 28.4], [-10, 0, 10], ["-10", "0", "10"], [0, 10, 20], ["0", "10", "20"],
                    [-15, -5, 5, 15], [5, 15, 25], "3")
xd, yd = panel_axis(756.3, 1045, 317.3, 481, [-0.039, 1.046], [-0.036, 0.853], [0, 0.25, 0.5, 0.75, 1], ["0", "0.25", "0.50", "0.75", "1.00"],
                    [0, 0.2, 0.4, 0.6, 0.8], ["0", "0.2", "0.4", "0.6", "0.8"],
                    [0.125, 0.375, 0.625, 0.875], [0.1, 0.3, 0.5, 0.7], "4")


def colorbar(x0):
    return dict(x=x0 / 1050, xanchor="left", xpad=0, y=1 - 401.7 / 553, yanchor="bottom", ypad=0, len=66, lenmode="pixels",
                thickness=10, thicknessmode="pixels", outlinewidth=0, ticks="", tickvals=[0, -5, -10], ticktext=["0", "-5", "-10"],
                tickfont=dict(size=12.5, color=DARK), title=dict(text="logFC", side="top", font=dict(size=13.5, color=DARK)))


fig.update_layout(
    width=1050, height=553, margin=dict(l=0, r=0, t=0, b=0), plot_bgcolor="white", paper_bgcolor="white",
    font=dict(family=FONT, color=DARK), barmode="overlay", showlegend=False,
    xaxis=dict(domain=[0, 1], range=[0, 1050], visible=False, anchor="y"),
    yaxis=dict(domain=[0, 1], range=[553, 0], visible=False, anchor="x"),
    xaxis2=xb, yaxis2=yb, xaxis3=xc, yaxis3=yc, xaxis4=xd, yaxis4=yd,
    coloraxis=dict(colorscale=colorscale, cmin=-13.5, cmax=5, colorbar=colorbar(628)),
    coloraxis2=dict(colorscale=colorscale, cmin=-13.5, cmax=5, colorbar=colorbar(991.7)),
)

fig.write_html("out.html", config={"displayModeBar": False}, post_script="document.body.style.margin='0';")
